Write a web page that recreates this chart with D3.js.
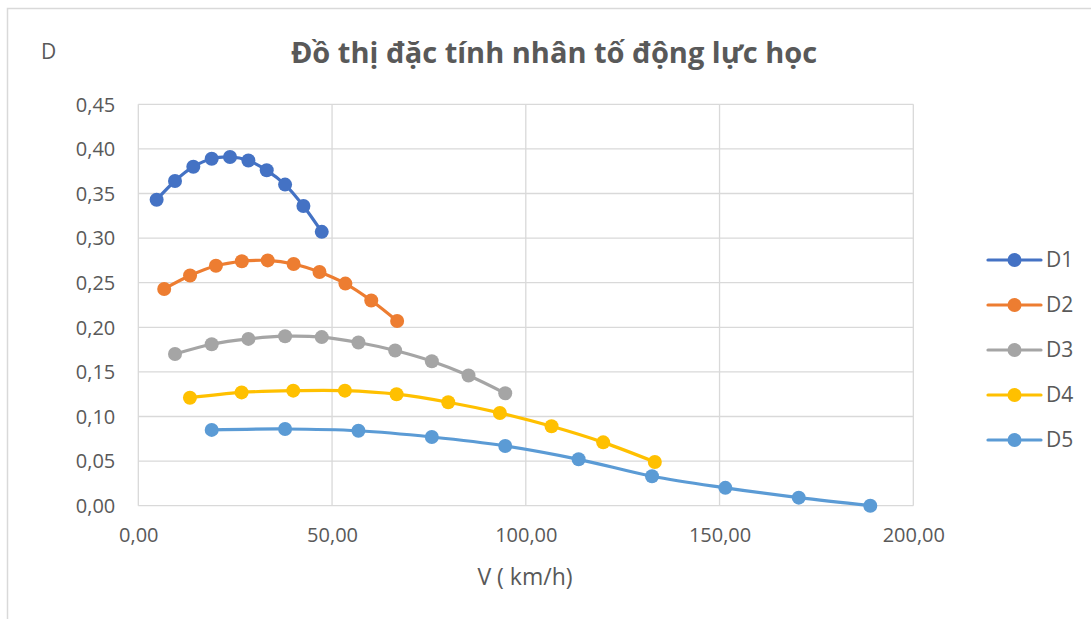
<!DOCTYPE html>
<html>
<head>
<meta charset="utf-8">
<script src="https://cdn.jsdelivr.net/npm/d3@7/dist/d3.min.js"></script>
<style>
  html, body { margin: 0; padding: 0; background: #fff; }
  svg { display: block; }
  text { font-family: "Open Sans", "Noto Sans", sans-serif; fill: #595959; }
</style>
</head>
<body>
<svg id="chart" width="1091" height="619"></svg>
<script>
// Speed (km/h) and dynamic factor D for each gear
const seriesNames = ["D1", "D2", "D3", "D4", "D5"];
const speed1 = [4.73, 9.47, 14.20, 18.94, 23.67, 28.41, 33.14, 37.88, 42.61, 47.34];
const factor1 = [0.343, 0.364, 0.380, 0.389, 0.391, 0.387, 0.376, 0.360, 0.336, 0.307];
const speed2 = [6.68, 13.36, 20.04, 26.72, 33.40, 40.08, 46.76, 53.44, 60.12, 66.80];
const factor2 = [0.243, 0.258, 0.269, 0.274, 0.275, 0.271, 0.262, 0.249, 0.230, 0.207];
const speed3 = [9.47, 18.94, 28.41, 37.88, 47.34, 56.81, 66.28, 75.75, 85.22, 94.69];
const factor3 = [0.170, 0.181, 0.187, 0.190, 0.189, 0.183, 0.174, 0.162, 0.146, 0.126];
const speed4 = [13.33, 26.66, 39.99, 53.32, 66.65, 79.98, 93.31, 106.64, 119.97, 133.30];
const factor4 = [0.121, 0.127, 0.129, 0.129, 0.125, 0.116, 0.104, 0.089, 0.071, 0.049];
const speed5 = [18.94, 37.88, 56.81, 75.75, 94.69, 113.63, 132.57, 151.50, 170.44, 188.90];
const factor5 = [0.085, 0.086, 0.084, 0.077, 0.067, 0.052, 0.033, 0.020, 0.009, 0.000];
const xTicks = [0, 50, 100, 150, 200];
const yTicks = [0, 0.05, 0.10, 0.15, 0.20, 0.25, 0.30, 0.35, 0.40, 0.45];

const colors = ["#4472C4", "#ED7D31", "#A5A5A5", "#FFC000", "#5B9BD5"];
const speeds = [speed1, speed2, speed3, speed4, speed5];
const factors = [factor1, factor2, factor3, factor4, factor5];
const series = seriesNames.map((name, i) => ({
  name, color: colors[i],
  points: speeds[i].map((v, j) => ({ v, d: factors[i][j] }))
}));

const svg = d3.select("#chart");
const plot = { left: 138.3, right: 913.3, top: 104.3, bottom: 505.7 };

const x = d3.scaleLinear().domain([0, 200]).range([plot.left, plot.right]);
const y = d3.scaleLinear().domain([0, 0.45]).range([plot.bottom, plot.top]);
const fmt = v => d3.format(".2f")(v).replace(".", ",");

// Outer chart frame (left and top edges visible)
svg.append("path")
  .attr("d", "M7.5,640 V8.5 H1100")
  .attr("fill", "none").attr("stroke", "#d9d9d9").attr("stroke-width", 1.5);

// Gridlines
const grid = svg.append("g").attr("stroke", "#d9d9d9").attr("stroke-width", 1.3);
grid.selectAll(".gy").data(yTicks).join("line")
  .attr("x1", plot.left).attr("x2", plot.right)
  .attr("y1", d => y(d)).attr("y2", d => y(d));
grid.selectAll(".gx").data(xTicks).join("line")
  .attr("y1", plot.top).attr("y2", plot.bottom)
  .attr("x1", d => x(d)).attr("x2", d => x(d));

// Axes (labels only, lines come from the grid)
const yAxis = svg.append("g").attr("transform", `translate(${plot.left},0)`)
  .call(d3.axisLeft(y).tickValues(yTicks).tickFormat(fmt).tickSize(0).tickPadding(23));
const xAxis = svg.append("g").attr("transform", `translate(0,${plot.bottom})`)
  .call(d3.axisBottom(x).tickValues(xTicks).tickFormat(fmt).tickSize(0).tickPadding(22));
[yAxis, xAxis].forEach(a => {
  a.select(".domain").remove();
  a.selectAll("text").attr("font-size", 20).attr("fill", "#595959")
    .style("font-family", '"Open Sans", sans-serif');
});
yAxis.selectAll("text").attr("dy", "0.34em");

// Series lines and markers
const line = d3.line().x(p => x(p.v)).y(p => y(p.d)).curve(d3.curveCatmullRom.alpha(0.5));
const sg = svg.append("g");
series.forEach(s => {
  const g = sg.append("g");
  g.append("path").datum(s.points)
    .attr("d", line).attr("fill", "none")
    .attr("stroke", s.color).attr("stroke-width", 3.2)
    .attr("stroke-linejoin", "round").attr("stroke-linecap", "round");
  g.selectAll("circle").data(s.points).join("circle")
    .attr("cx", p => x(p.v)).attr("cy", p => y(p.d)).attr("r", 7)
    .attr("fill", s.color);
});

// Legend
const legend = svg.append("g");
const ly = d3.scalePoint().domain(seriesNames).range([260, 440]);
series.forEach(s => {
  const g = legend.append("g").attr("transform", `translate(0,${ly(s.name)})`);
  g.append("line").attr("x1", 988).attr("x2", 1041)
    .attr("stroke", s.color).attr("stroke-width", 3.2).attr("stroke-linecap", "round");
  g.append("circle").attr("cx", 1014.5).attr("cy", 0).attr("r", 7).attr("fill", s.color);
  g.append("text").attr("x", 1046).attr("y", 0).attr("dy", "0.35em")
    .attr("font-size", 21).text(s.name);
});

// Titles
svg.append("text").attr("x", 554).attr("y", 63).attr("text-anchor", "middle")
  .attr("font-size", 29).attr("font-weight", "bold")
  .text("Đồ thị đặc tính nhân tố động lực học");
svg.append("text").attr("x", 41).attr("y", 59).attr("font-size", 21).text("D");
svg.append("text").attr("x", 525).attr("y", 585).attr("text-anchor", "middle")
  .attr("font-size", 23).text("V ( km/h)");
</script>
</body>
</html>
